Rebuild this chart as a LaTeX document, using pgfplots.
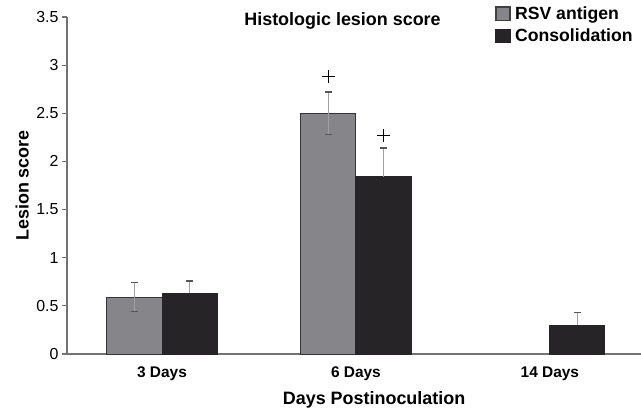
\documentclass[border=0pt]{standalone}
\usepackage{fontspec}
\setmainfont{Liberation Sans}
\usepackage{pgfplots}
\pgfplotsset{compat=1.18}
\definecolor{barGray}{RGB}{133,133,138}
\definecolor{barBlack}{RGB}{38,36,38}
\definecolor{axisGray}{RGB}{115,115,115}
\definecolor{errGray}{RGB}{160,160,160}
\definecolor{capGray}{RGB}{85,85,85}
\begin{document}
\begin{tikzpicture}
\useasboundingbox (-67bp,-58bp) rectangle (574bp,354bp);
\begin{axis}[
  scale only axis, width=574bp, height=337bp,
  xmin=-0.49, xmax=2.47, ymin=0, ymax=3.5,
  axis x line=bottom, axis y line=left,
  axis line style={-, draw=axisGray, line width=1.5bp},
  tick align=outside,
  xtick={0,1,2}, xticklabels={3 Days,6 Days,14 Days},
  x tick label style={font=\fontsize{15.5}{18}\selectfont\bfseries, yshift=-4.5bp},
  major x tick style={draw=none},
  extra x ticks={0.5,1.5}, extra x tick labels={},
  extra x tick style={major tick length=6bp, tick style={draw=axisGray, line width=1.5bp}},
  ytick={0,0.5,...,3.5},
  major tick length=5bp,
  y tick style={draw=axisGray, line width=1.2bp},
  y tick label style={font=\fontsize{16}{18}\selectfont},
  yticklabel style={/pgf/number format/.cd, fixed, precision=1, assume math mode=true},
  title={Histologic lesion score},
  title style={font=\fontsize{18}{20}\selectfont\bfseries, at={(axis description cs:0.48,0.97)}, anchor=center},
  xlabel={Days Postinoculation},
  xlabel style={font=\fontsize{18}{20}\selectfont\bfseries, at={(axis description cs:0.535,-0.137)}, anchor=center},
  ylabel={Lesion score},
  ylabel style={font=\fontsize{18}{20}\selectfont\bfseries, at={(axis description cs:-0.078,0.5)}, anchor=center},
  legend style={at={(axis description cs:0.746,1.035)}, anchor=north west, draw=none, fill=none,
    font=\fontsize{17.7}{20}\selectfont\bfseries, inner sep=0pt, row sep=5bp,
    nodes={inner sep=1.5bp}},
  legend cell align=left,
]
\addplot[ybar, bar width=0.284, bar shift=0pt, fill=barGray, draw=black!80, line width=0.9bp,
  legend image code/.code={\draw[fill=barGray, draw=black!75, line width=1.2bp] (0bp,-6.5bp) rectangle (14bp,7bp);},
  error bars/.cd, y dir=both, y explicit,
  error bar style={errGray, line width=1.5bp},
  error mark options={capGray, rotate=90, mark size=3.5bp, line width=1.5bp}]
  coordinates {(-0.142,0.59) +- (0,0.15) (0.858,2.50) +- (0,0.22)};
\addlegendentry{\hspace{3bp}RSV antigen}
\addplot[ybar, bar width=0.284, bar shift=0pt, fill=barBlack, draw=barBlack, line width=0.9bp,
  legend image code/.code={\draw[fill=barBlack, draw=barBlack, line width=1.2bp] (0bp,-6.5bp) rectangle (14bp,7bp);},
  error bars/.cd, y dir=plus, y explicit,
  error bar style={errGray, line width=1.5bp},
  error mark options={capGray, rotate=90, mark size=3.5bp, line width=1.5bp}]
  coordinates {(0.142,0.63) +- (0,0.13) (1.142,1.84) +- (0,0.30) (2.142,0.30) +- (0,0.13)};
\addlegendentry{\hspace{3bp}Consolidation}
\addplot[only marks, mark=+, mark size=6.5bp, black, line width=0.9bp, forget plot]
  coordinates {(0.858,2.88) (1.142,2.27)};
\end{axis}
\end{tikzpicture}
\end{document}
